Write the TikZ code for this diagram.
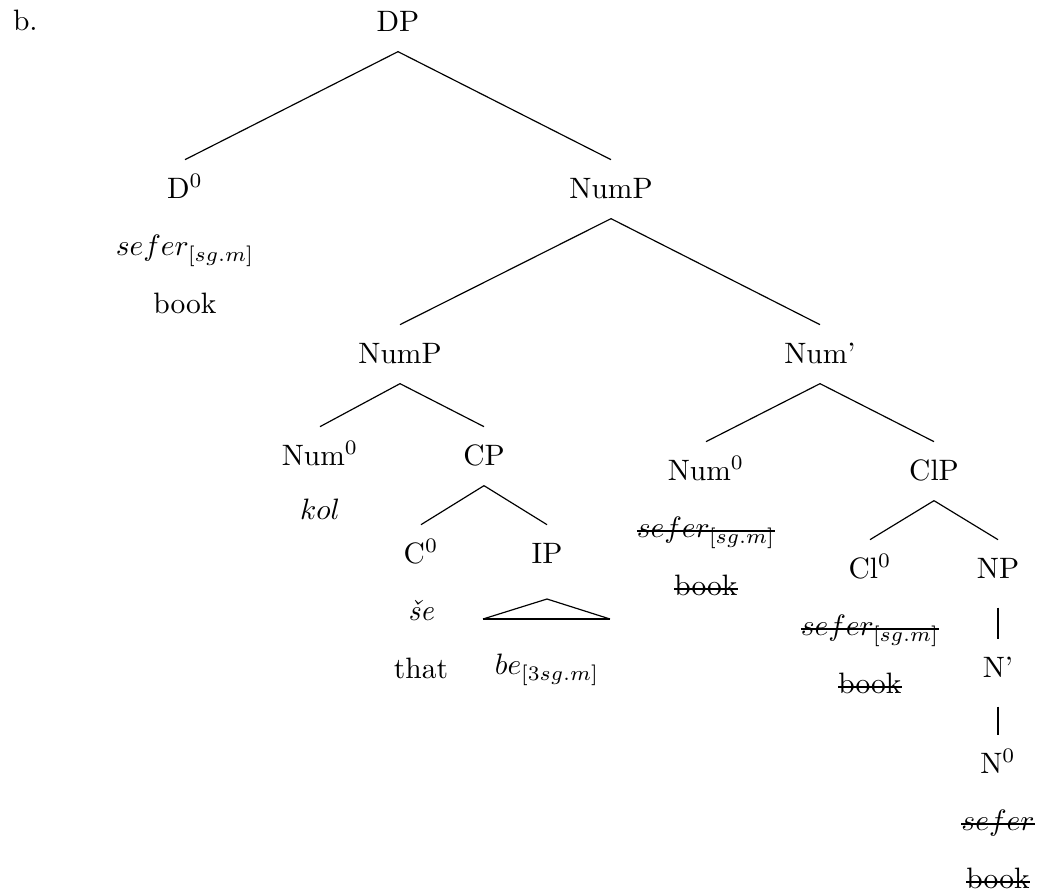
\documentclass[tikz,border=0pt]{standalone}
\usepackage{fontspec}
\usetikzlibrary{positioning}

% struck-out trace
\newcommand{\crossed}[1]{\sbox0{#1}\rlap{\rule[0.45ex]{\wd0}{0.8pt}}\usebox0}

\begin{document}
\begin{tikzpicture}[
        % one unit = one pixel of the sketch
        x=0.339pt, y=-0.339pt,
        % baseline to baseline of the word rows
        node distance=19.6pt,
        every node/.style={inner sep=0pt, outer sep=0pt},
        cat/.style={anchor=base, text height=8pt, text depth=2pt, inner ysep=5pt},
        word/.style={on grid, text height=8pt, text depth=2pt},
        branch/.style={line width=0.4pt},
        unary/.style={line width=0.8pt, shorten <=3pt},
        roof/.style={line width=0.4pt}
    ]
    \useasboundingbox (0,0) rectangle (1039,894);

    \node[anchor=base west] (ex) at (13,30) {b.};

    % --- Categories ---
    \node[cat] (DP) at (398,31) {DP};
    \node[cat] (D) at (185,198) {D$^0$};
    \node[cat] (NumP) at (611,198) {NumP};
    \node[cat] (NumPa) at (400,363) {NumP};
    \node[cat] (Numbar) at (820,363) {Num'};
    \node[cat] (Numa) at (320,465) {Num$^0$};
    \node[cat] (CP) at (484,465) {CP};
    \node[cat] (C) at (421,563) {C$^0$};
    \node[cat] (IP) at (547,563) {IP};
    \node[cat] (Numb) at (706,480) {Num$^0$};
    \node[cat] (ClP) at (934,480) {ClP};
    \node[cat] (Cl) at (870,578) {Cl$^0$};
    \node[cat] (NP) at (998,578) {NP};
    \node[cat] (Nbar) at (998,677) {N'};
    \node[cat] (N) at (998,773) {N$^0$};

    % --- Words ---
    \node[word, below=of D] (Dw) {$sefer_{[sg.m]}$};
    \node[word, below=of Dw] (Dg) {book};
    \node[word, below=18.6pt of Numa] (Numaw) {$kol$};
    \node[word, below=of C] (Cw) {\textit{še}};
    \node[word, below=of Cw] (Cg) {that};
    \node[word] (IPw) at (547,666) {$be_{[3sg.m]}$};
    \node[word, below=of Numb] (Numbw) {\crossed{$sefer_{[sg.m]}$}};
    \node[word, below=of Numbw] (Numbg) {\crossed{book}};
    \node[word, below=of Cl] (Clw) {\crossed{$sefer_{[sg.m]}$}};
    \node[word, below=of Clw] (Clg) {\crossed{book}};
    \node[word, below=of N] (Nw) {\crossed{$sefer$}};
    \node[word, below=of Nw] (Ng) {\crossed{book}};

    % --- Branches ---
    \draw[branch] (DP.south) -- (D.north);
    \draw[branch] (DP.south) -- (NumP.north);
    \draw[branch] (NumP.south) -- (NumPa.north);
    \draw[branch] (NumP.south) -- (Numbar.north);
    \draw[branch] (NumPa.south) -- (Numa.north);
    \draw[branch] (NumPa.south) -- (CP.north);
    \draw[branch] (CP.south) -- (C.north);
    \draw[branch] (CP.south) -- (IP.north);
    \draw[branch] (Numbar.south) -- (Numb.north);
    \draw[branch] (Numbar.south) -- (ClP.north);
    \draw[branch] (ClP.south) -- (Cl.north);
    \draw[branch] (ClP.south) -- (NP.north);
    \draw[unary] (NP.south) -- (Nbar.north);
    \draw[unary] (Nbar.south) -- (N.north);

    % roof over IP
    \coordinate (top) at (547,599);
    \coordinate (left) at (483,619);
    \coordinate (right) at (610,619);
    \draw[roof] (left) -- (top) -- (right);
    \draw[line width=0.8pt] (left) -- (right);
\end{tikzpicture}
\end{document}
